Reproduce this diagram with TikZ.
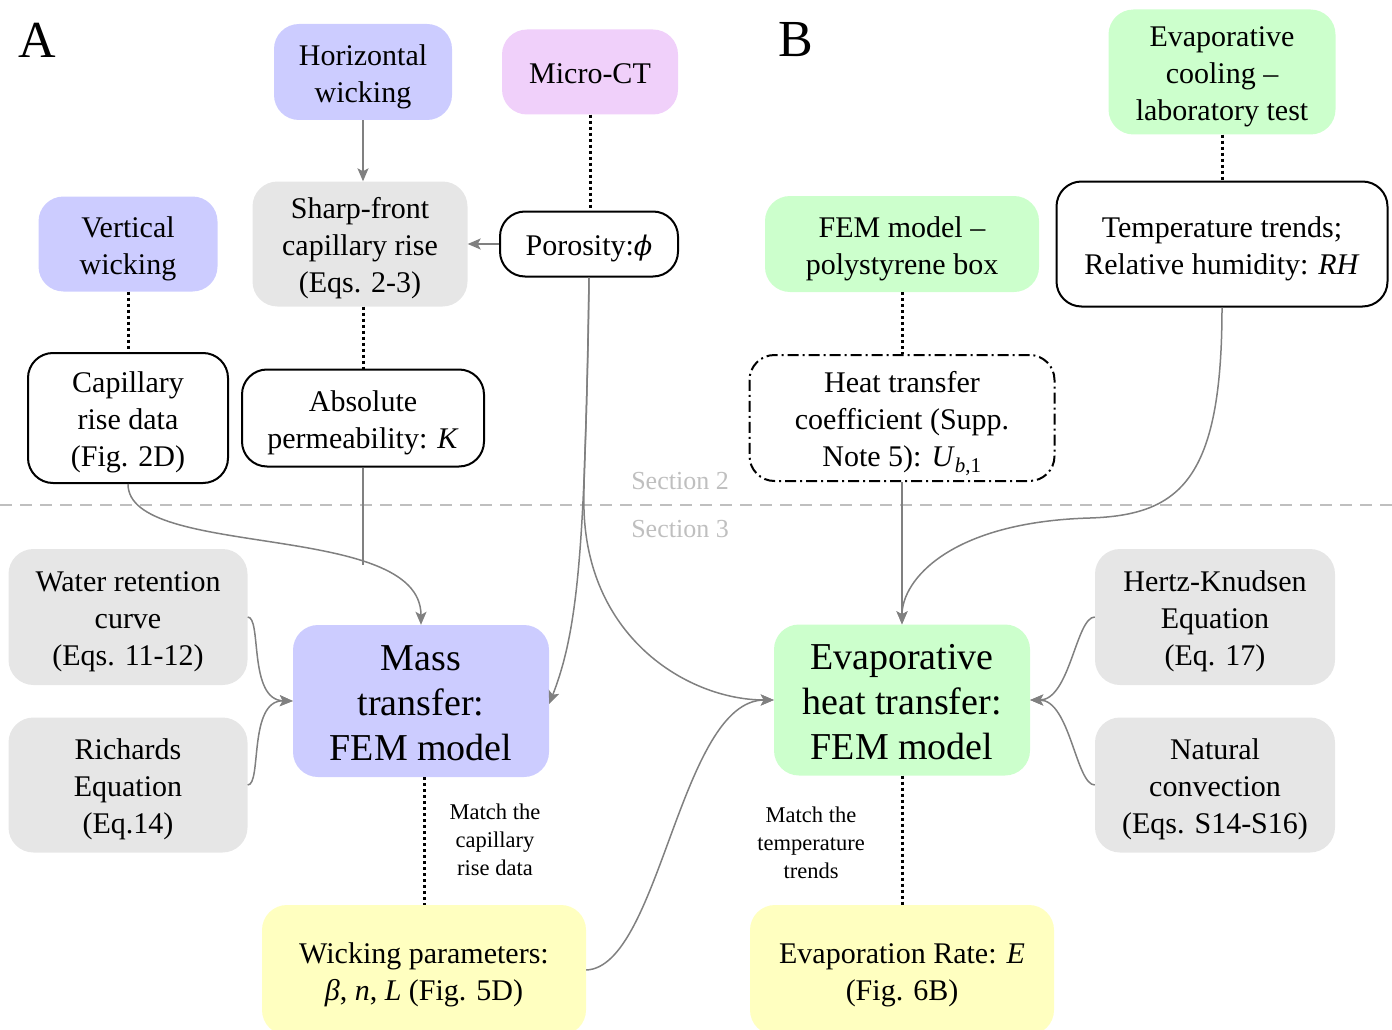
\documentclass[tikz,border=0pt]{standalone}
\usepackage{fontspec}
\setmainfont{Liberation Serif}
\newfontfamily\dvs{DejaVu Serif}
\usetikzlibrary{arrows.meta}
\definecolor{blueF}{HTML}{CCCCFF}
\definecolor{pinkF}{HTML}{F0D0FA}
\definecolor{greenF}{HTML}{CCFFCC}
\definecolor{grayF}{HTML}{E6E6E6}
\definecolor{yellowF}{HTML}{FFFFC0}
\definecolor{lineG}{HTML}{808080}
\definecolor{secG}{HTML}{BFBFBF}
\newcommand{\phiit}{{\dvs\itshape\fontsize{27}{37}\selectfont ϕ}}
\newcommand{\tl}[1]{\raisebox{-4.5pt}[\height][\depth]{\begin{tabular}{@{}c@{}}#1\end{tabular}}}
\newcommand{\tlb}[1]{\raisebox{-5pt}[\height][\depth]{\begin{tabular}{@{}c@{}}#1\end{tabular}}}
\tikzset{
  bx/.style={rounded corners=25pt, inner sep=0pt,
    font=\fontsize{30}{37}\selectfont},
  bigbx/.style={bx, font=\fontsize{38}{45}\selectfont},
  whitebx/.style={bx, draw=black, line width=2pt, fill=white},
  dashdotbx/.style={bx, draw=black, line width=2pt,
    dash pattern=on 11pt off 4pt on 2pt off 4pt},
  arr/.style={draw=lineG, line width=1.5pt,
    -{Stealth[length=13pt,width=11pt,inset=3pt]}},
  plainline/.style={draw=lineG, line width=1.5pt},
  dotc/.style={draw=black, line width=3pt, dash pattern=on 3pt off 3pt},
  smalltxt/.style={align=center, font=\fontsize{22.5}{28}\selectfont},
  sectxt/.style={text=secG, font=\fontsize{26}{30}\selectfont},
  paneltxt/.style={font=\fontsize{52}{52}\selectfont}
}
\begin{document}
\begin{tikzpicture}[x=1pt,y=-1pt]
\useasboundingbox (0,0) rectangle (1392,1030);
\clip (0,0) rectangle (1392,1030);

% panel labels
\node[paneltxt] (labA) at (37,40) {A};
\node[paneltxt] (labB) at (796,40) {B};

% section divider
\draw[secG, line width=2.5pt, dash pattern=on 12pt off 8pt] (0,505) -- (1392,505);
\node[sectxt] (sec2) at (680,481) {Section 2};
\node[sectxt] (sec3) at (680,529) {Section 3};

% ---- Panel A ----
\node[bx, fill=blueF, minimum width=178pt, minimum height=96pt] (hw) at (363,72) {\tl{Horizontal\\wicking}};
\node[bx, fill=pinkF, minimum width=176pt, minimum height=85pt] (mct) at (590,72) {\tl{Micro-CT}};
\node[bx, fill=blueF, minimum width=179pt, minimum height=95pt] (vw) at (128,244) {\tl{Vertical\\wicking}};
\node[bx, fill=grayF, minimum width=215pt, minimum height=125pt] (sf) at (360,244) {\tl{Sharp-front\\capillary rise\\(Eqs. 2-3)}};
\node[whitebx, minimum width=178pt, minimum height=65pt] (po) at (589,244) {\tl{Porosity:\phiit}};
\node[whitebx, minimum width=200pt, minimum height=130pt] (crd) at (128,418) {\tl{Capillary\\rise data\\(Fig. 2D)}};
\node[whitebx, minimum width=242pt, minimum height=97pt] (ap) at (363,418) {\tl{Absolute\\permeability: \textit{K}}};
\node[bx, fill=grayF, minimum width=239pt, minimum height=136pt] (wrc) at (128,617) {\tl{Water retention\\curve\\(Eqs. 11-12)}};
\node[bx, fill=grayF, minimum width=239pt, minimum height=135pt] (re) at (128,785) {\tl{Richards\\Equation\\(Eq.14)}};
\node[bigbx, fill=blueF, minimum width=256pt, minimum height=152pt] (mt) at (421,701) {\tlb{Mass\\transfer:\\FEM model}};
\node[bx, fill=yellowF, minimum width=324pt, minimum height=130pt] (wp) at (424,970) {\tl{Wicking parameters:\\\textit{β}, \textit{n}, \textit{L} (Fig. 5D)}};
\node[smalltxt] (m1) at (495,840) {Match the\\capillary\\rise data};

% ---- Panel B ----
\node[bx, fill=greenF, minimum width=227pt, minimum height=125pt] (ec) at (1222,72) {\tl{Evaporative\\cooling –\\laboratory test}};
\node[bx, fill=greenF, minimum width=274pt, minimum height=96pt] (fem) at (902,244) {\tl{FEM model –\\polystyrene box}};
\node[whitebx, minimum width=331pt, minimum height=125pt] (tt) at (1222,244) {\tl{Temperature trends;\\Relative humidity: \textit{RH}}};
\node[dashdotbx, minimum width=305pt, minimum height=126pt] (htc) at (902,418) {\tl{Heat transfer\\coefficient (Supp.\\Note 5): \textit{U}\textsubscript{\textit{b},1}}};
\node[bigbx, fill=greenF, minimum width=256pt, minimum height=151pt] (eh) at (902,700) {\tlb{Evaporative\\heat transfer:\\FEM model}};
\node[bx, fill=grayF, minimum width=240pt, minimum height=136pt] (hk) at (1215,617) {\tl{Hertz-Knudsen\\Equation\\(Eq. 17)}};
\node[bx, fill=grayF, minimum width=240pt, minimum height=135pt] (nc) at (1215,785) {\tl{Natural\\convection\\(Eqs. S14-S16)}};
\node[bx, fill=yellowF, minimum width=304pt, minimum height=130pt] (er) at (902,970) {\tl{Evaporation Rate: \textit{E}\\(Fig. 6B)}};
\node[smalltxt] (m2) at (811,843) {Match the\\temperature\\trends};

% ---- connectors, panel A ----
\draw[arr] (hw.south) -- (hw.south |- sf.north);
\draw[dotc] (mct.south) -- (mct.south |- po.north);
\draw[arr] (po.west) -- (sf.east);
\draw[dotc] (vw.south) -- (vw.south |- crd.north);
\draw[dotc] (sf.south -| ap.north) -- (ap.north);
\draw[arr] (crd.south) .. controls (128,560) and (421,520) .. (mt.north) coordinate[pos=0.72] (apj);
\draw[plainline] (ap.south) -- (ap.south |- apj);
\draw[arr] (po.south) .. controls (585,550) and (578,630) .. ([yshift=-3pt]mt.east);
\draw[arr] (po.south) .. controls (588,400) and (583,480) .. (584,510) .. controls (588,640) and (690,700) .. (eh.west);
\draw[arr] (wrc.east) .. controls (262,617) and (248,700) .. (mt.west);
\draw[arr] (re.east) .. controls (262,785) and (248,700) .. (mt.west);
\draw[dotc] (mt.south -| wp.north) -- (wp.north);

% ---- connectors, panel B ----
\draw[dotc] (ec.south) -- (tt.north);
\draw[dotc] (fem.south) -- (htc.north);
\draw[arr] (htc.south) -- (eh.north);
\draw[arr] (tt.south) .. controls (1222,480) and (1180,515) .. (1090,518) .. controls (950,522) and (902,580) .. (eh.north);
\draw[arr] (hk.west) .. controls (1076,617) and (1070,700) .. (eh.east);
\draw[arr] (nc.west) .. controls (1076,785) and (1070,700) .. (eh.east);
\draw[dotc] (eh.south) -- (er.north);
\draw[arr] (wp.east) .. controls (660,967) and (680,700) .. (eh.west);
\end{tikzpicture}
\end{document}
